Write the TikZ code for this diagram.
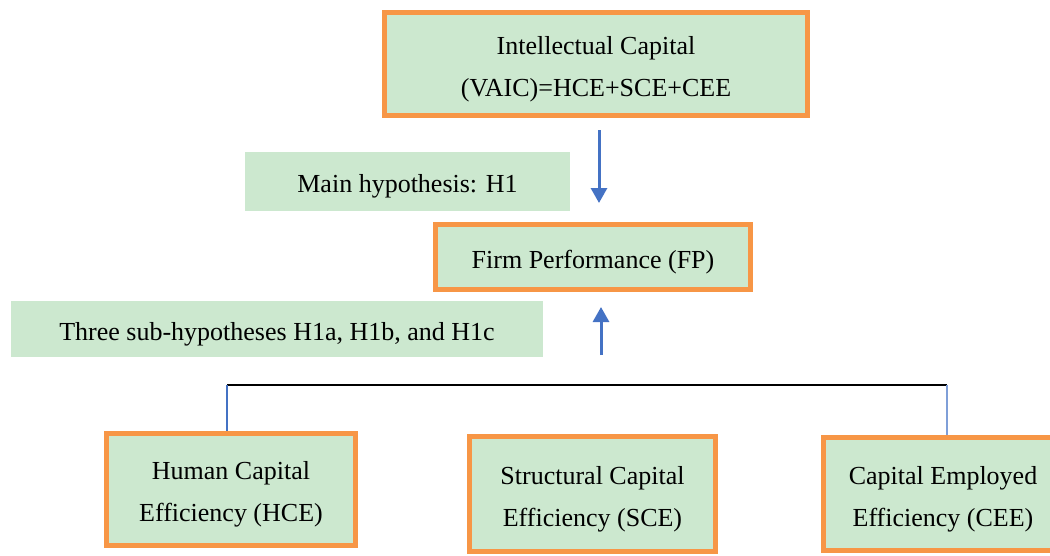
\documentclass[tikz,border=0pt]{standalone}
\usepackage{fontspec}
\setmainfont{Liberation Serif}
\usetikzlibrary{arrows.meta}
\definecolor{boxorange}{HTML}{F79646}
\definecolor{boxgreen}{HTML}{CCE8CF}
\definecolor{arrowblue}{HTML}{4472C4}
\definecolor{lightblue}{HTML}{7F9FD8}
\newcommand\boxtext[1]{\raisebox{-3pt}[\height][\depth]{\begin{tabular}{@{}c@{}}#1\end{tabular}}}
\begin{document}
\begin{tikzpicture}[x=1pt,y=-1pt,
  framed/.style={draw=boxorange,line width=5pt,fill=boxgreen,inner sep=0pt,
    font=\fontsize{26}{42}\selectfont},
  plain/.style={fill=boxgreen,inner sep=0pt,font=\fontsize{26}{42}\selectfont},
  bluearrow/.style={draw=arrowblue,line width=3pt,-{Triangle[width=16pt,length=15pt]}}
]
\useasboundingbox (0,0) rectangle (1050,555);
\clip (0,0) rectangle (1050,555);
\node[framed,minimum width=423pt,minimum height=103pt] (ic) at (596,64) {\boxtext{Intellectual Capital\\(VAIC)=HCE+SCE+CEE}};
\node[plain,minimum width=325pt,minimum height=59pt] (mh) at (407.5,181.5) {\boxtext{Main hypothesis: H1}};
\node[framed,minimum width=315pt,minimum height=65pt] (fp) at (593,257) {\boxtext{Firm Performance (FP)}};
\node[plain,minimum width=532pt,minimum height=56pt] (sh) at (277,329) {\boxtext{Three sub-hypotheses H1a, H1b, and H1c}};
\node[framed,minimum width=249pt,minimum height=112pt] (hce) at (231,489.5) {\boxtext{Human Capital\\Efficiency (HCE)}};
\node[framed,minimum width=246pt,minimum height=115pt] (sce) at (592.5,494) {\boxtext{Structural Capital\\Efficiency (SCE)}};
\node[framed,minimum width=240pt,minimum height=113pt] (cee) at (943,494) {\boxtext{Capital Employed\\Efficiency (CEE)}};
\coordinate (a1) at (599,130);
\coordinate (a2) at (599,203);
\coordinate (b1) at (601,355);
\coordinate (b2) at (601,307);
\coordinate (tl) at (227,385);
\coordinate (tr) at (947,385);
\draw[bluearrow] (a1) -- (a2);
\draw[bluearrow] (b1) -- (b2);
\draw[black,line width=2pt] (tl) -- (tr);
\draw[arrowblue,line width=2pt] (tl) -- (tl |- hce.north);
\draw[lightblue,line width=1.2pt] (tr) -- (tr |- cee.north);
\end{tikzpicture}
\end{document}
